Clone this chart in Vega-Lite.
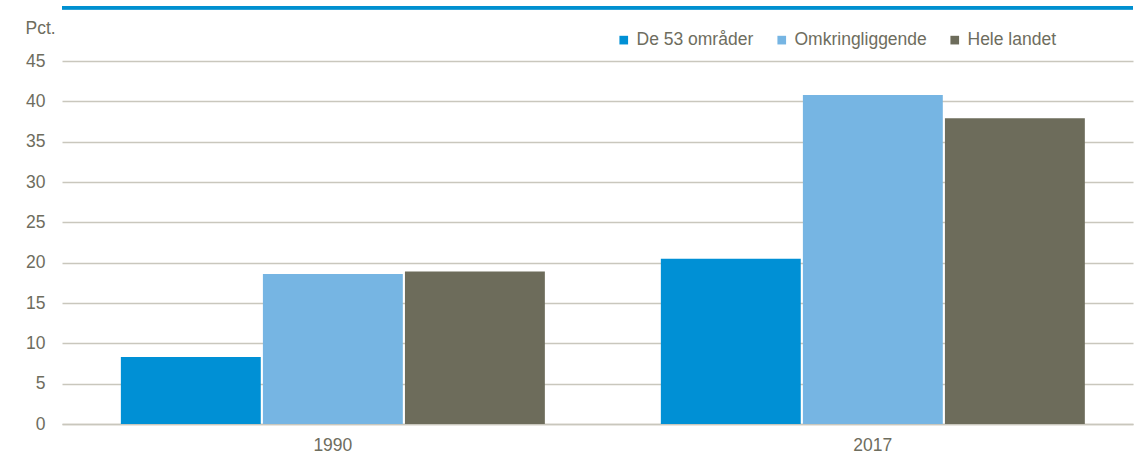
{
  "$schema": "https://vega.github.io/schema/vega-lite/v6.json",
  "autosize": {"type": "none"},
  "padding": {"left": 62, "top": 61, "right": 2, "bottom": 37},
  "width": 1071,
  "height": 363,
  "background": "white",
  "config": {
    "font": "Liberation Sans",
    "view": {"stroke": null},
    "axis": {"labelColor": "#6e6d5e", "titleColor": "#6e6d5e", "labelFont": "Liberation Sans", "titleFont": "Liberation Sans"},
    "legend": {"labelColor": "#6e6d5e", "labelFont": "Liberation Sans"}
  },
  "data": {
    "values": [
      {"year": "1990", "series": "De 53 områder", "value": 8.3},
      {"year": "1990", "series": "Omkringliggende", "value": 18.6},
      {"year": "1990", "series": "Hele landet", "value": 18.9},
      {"year": "2017", "series": "De 53 områder", "value": 20.5},
      {"year": "2017", "series": "Omkringliggende", "value": 40.8},
      {"year": "2017", "series": "Hele landet", "value": 37.9}
    ]
  },
  "layer": [
    {
      "mark": {"type": "bar"},
      "encoding": {
        "x": {
          "field": "year", "type": "nominal",
          "scale": {"paddingInner": 0.2148, "paddingOuter": 0.0991, "align": 0.55},
          "axis": {"title": null, "labelAngle": 0, "labelFontSize": 17.5, "labelPadding": 12, "ticks": false, "domainColor": "#c9c7bd", "domainWidth": 1.5}
        },
        "xOffset": {
          "field": "series", "type": "nominal",
          "sort": ["De 53 områder", "Omkringliggende", "Hele landet"],
          "scale": {"paddingInner": 0.015, "paddingOuter": 0}
        },
        "y": {
          "field": "value", "type": "quantitative",
          "scale": {"domain": [0, 45], "nice": false},
          "axis": {
            "title": "Pct.", "titleAngle": 0, "titleAlign": "left", "titleBaseline": "middle",
            "titleX": -37, "titleY": -33, "titleFontSize": 17.5, "titleFontWeight": "normal",
            "values": [0, 5, 10, 15, 20, 25, 30, 35, 40, 45],
            "labelFontSize": 17.5, "labelPadding": 17, "ticks": false, "domain": false,
            "gridColor": "#c9c7bd", "gridWidth": 1.5
          }
        },
        "color": {
          "field": "series", "type": "nominal",
          "sort": ["De 53 områder", "Omkringliggende", "Hele landet"],
          "scale": {"domain": ["De 53 områder", "Omkringliggende", "Hele landet"], "range": ["#0090d5", "#76b5e3", "#6d6c5b"]},
          "legend": {
            "title": null, "orient": "none", "direction": "horizontal",
            "legendX": 553, "legendY": -30,
            "symbolType": "square", "symbolSize": 75, "symbolStrokeWidth": 0,
            "labelFontSize": 17.5, "columnPadding": 19, "labelOffset": 4
          }
        }
      }
    },
    {
      "mark": {"type": "rule", "color": "#0090d0", "strokeWidth": 3, "clip": false},
      "encoding": {"y": {"datum": 51.6}}
    }
  ]
}
